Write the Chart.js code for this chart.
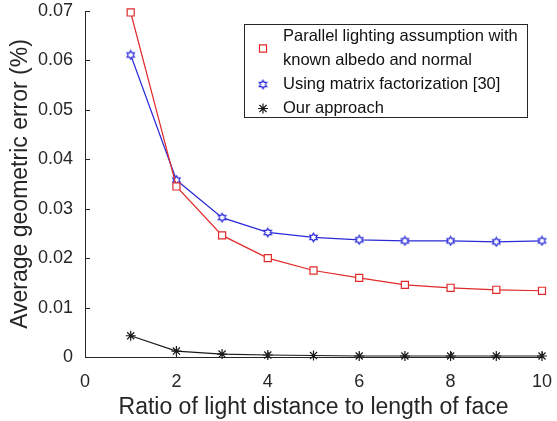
<!DOCTYPE html>
<html>
<head>
<meta charset="utf-8">
<script src="https://cdn.jsdelivr.net/npm/chart.js@4"></script>
<style>
html,body{margin:0;padding:0;background:#fff;}
#wrap{width:557px;height:421px;}
</style>
</head>
<body>
<div id="wrap"><canvas id="c" width="557" height="421"></canvas></div>
<script>
// ratio of light distance to face length
const ratios = [1, 2, 3, 4, 5, 6, 7, 8, 9, 10];
const parallelErr = [0.0697, 0.0345, 0.0246, 0.0200, 0.0175, 0.0160, 0.0146, 0.0140, 0.0136, 0.0134];
const matrixErr = [0.0611, 0.0358, 0.0282, 0.0252, 0.0242, 0.0237, 0.0235, 0.0235, 0.0233, 0.0235];
const oursErr = [0.0043, 0.0012, 0.0006, 0.0004, 0.0003, 0.0002, 0.0002, 0.0002, 0.0002, 0.0002];
const labels = ['Parallel lighting assumption with\nknown albedo and normal', 'Using matrix factorization [30]', 'Our approach'];
const xTicks = [0, 2, 4, 6, 8, 10];
const yTicks = [0, 0.01, 0.02, 0.03, 0.04, 0.05, 0.06, 0.07];

const FONT = '"Liberation Sans", Arial, sans-serif';
const TXT = '#262626';
const RED = '#e02a2a', BLUE = '#2a2ad8', BLK = '#1a1a1a';

// hexagram marker (matlab 'h')
function hexagram(color) {
    const cv = document.createElement('canvas');
    cv.width = 11; cv.height = 11;
    const g = cv.getContext('2d');
    const R = 4.3, r = R / Math.sqrt(3);
    g.beginPath();
    for (let i = 0; i < 12; i++) {
        const a = -Math.PI / 2 + i * Math.PI / 6;
        const rr = i % 2 ? r : R;
        const px = 5.5 + rr * Math.cos(a), py = 5.5 + rr * Math.sin(a);
        i ? g.lineTo(px, py) : g.moveTo(px, py);
    }
    g.closePath();
    g.fillStyle = '#fff'; g.fill();
    g.strokeStyle = color; g.lineWidth = 1.2; g.stroke();
    return cv;
}
const hexMark = hexagram(BLUE);

const mkDs = (label, data, color, style, radius) => ({
    label, data: data.map((v, i) => ({x: ratios[i], y: v})),
    borderColor: color, backgroundColor: color, borderWidth: 1.2,
    pointStyle: style, pointRadius: radius, pointBorderColor: color,
    pointBackgroundColor: '#fff', pointBorderWidth: 1.2, tension: 0, clip: false
});

// inward ticks like matlab
const innerTicks = {
    id: 'innerTicks',
    afterDraw(chart) {
        const {ctx, chartArea: a, scales: {x, y}} = chart;
        ctx.save();
        ctx.strokeStyle = TXT; ctx.lineWidth = 1;
        ctx.beginPath();
        yTicks.forEach(v => { const py = Math.round(y.getPixelForValue(v)) + .5; ctx.moveTo(a.left, py); ctx.lineTo(a.left + 5, py); });
        xTicks.forEach(v => { const px = Math.round(x.getPixelForValue(v)) + .5; ctx.moveTo(px, a.bottom); ctx.lineTo(px, a.bottom - 5); });
        ctx.stroke();
        ctx.restore();
    }
};

// boxed legend inside the axes
const boxLegend = {
    id: 'boxLegend',
    afterDraw(chart) {
        const ctx = chart.ctx;
        const bx = 244.5, by = 24.5, bw = 283, bh = 93;
        ctx.save();
        ctx.fillStyle = '#fff';
        ctx.fillRect(bx, by, bw, bh);
        ctx.strokeStyle = TXT; ctx.lineWidth = 1;
        ctx.strokeRect(bx, by, bw, bh);
        ctx.font = '16.5px ' + FONT;
        ctx.fillStyle = '#111';
        ctx.textBaseline = 'middle';
        let ly = by + 12;
        chart.data.datasets.forEach(ds => {
            const lines = ds.label.split('\n');
            const my = ly + (lines.length - 1) * 12;
            const opts = {pointStyle: ds.pointStyle, radius: ds.pointRadius, rotation: 0, borderWidth: ds.pointBorderWidth};
            ctx.strokeStyle = ds.pointBorderColor; ctx.fillStyle = '#fff'; ctx.lineWidth = ds.pointBorderWidth;
            if (Chart.helpers && Chart.helpers.drawPoint) Chart.helpers.drawPoint(ctx, opts, 263, my);
            ctx.fillStyle = '#111';
            lines.forEach((t, k) => ctx.fillText(t, 283, ly + k * 24));
            ly += lines.length * 24;
        });
        ctx.restore();
    }
};

new Chart(document.getElementById('c'), {
    type: 'line',
    data: {datasets: [
        mkDs(labels[0], parallelErr, RED, 'rect', 5),
        mkDs(labels[1], matrixErr, BLUE, hexMark, 5),
        mkDs(labels[2], oursErr, BLK, 'star', 5)
    ]},
    options: {
        responsive: false, animation: false,
        layout: {padding: {top: 11, right: 15, left: 0, bottom: 0}},
        plugins: {legend: {display: false}, tooltip: {enabled: false}},
        scales: {
            x: {
                type: 'linear', min: 0, max: 10,
                afterFit: s => { s.height = 64; s.paddingLeft = 0; s.paddingRight = 0; },
                afterBuildTicks: s => { s.ticks = xTicks.map(v => ({value: v})); },
                grid: {display: false, drawTicks: false},
                border: {display: true, color: TXT, width: 1},
                ticks: {font: {family: FONT, size: 18}, color: TXT, padding: 14, maxRotation: 0},
                title: {display: true, text: 'Ratio of light distance to length of face', font: {family: FONT, size: 23}, color: TXT, padding: {top: 0, bottom: 0}}
            },
            y: {
                type: 'linear', min: 0, max: 0.07,
                afterFit: s => { s.width = 85; s.paddingTop = 0; s.paddingBottom = 0; },
                afterBuildTicks: s => { s.ticks = yTicks.map(v => ({value: v})); },
                grid: {display: false, drawTicks: false},
                border: {display: true, color: TXT, width: 1},
                ticks: {font: {family: FONT, size: 18}, color: TXT, padding: 12, callback: v => v === 0 ? '0' : v.toFixed(2)},
                title: {display: true, text: 'Average geometric error (%)', font: {family: FONT, size: 23}, color: TXT, padding: {top: 7, bottom: 0}}
            }
        }
    },
    plugins: [innerTicks, boxLegend]
});
</script>
</body>
</html>
